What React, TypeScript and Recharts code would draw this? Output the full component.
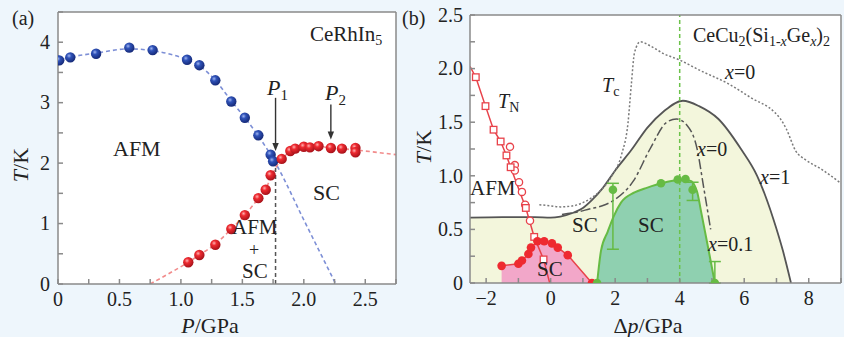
import React from 'react';
import {
  ComposedChart, Line, Area, Scatter, XAxis, YAxis, ReferenceLine, CartesianGrid, ErrorBar,
} from 'recharts';

const SERIF = "'Liberation Serif', 'Times New Roman', serif";
const INK = '#222';
const FRAME = '#8a8a8a';
const BG = '#eef6fc';
const GREEN = '#66bb44';

// ---- panel (a): CeRhIn5 ----
const afmP = [0.01, 0.1, 0.31, 0.58, 0.77, 1.05, 1.15, 1.28, 1.41, 1.52, 1.63, 1.73, 1.75];
const afmT = [3.7, 3.75, 3.81, 3.91, 3.87, 3.71, 3.62, 3.37, 3.02, 2.75, 2.46, 2.14, 2.03];
const afmLineP = [0, 0.1, 0.31, 0.58, 0.77, 1.05, 1.15, 1.28, 1.41, 1.52, 1.63, 1.77, 2.0, 2.26];
const afmLineT = [3.69, 3.75, 3.82, 3.89, 3.86, 3.71, 3.61, 3.37, 3.03, 2.75, 2.45, 2.0, 1.06, 0];
const scP = [1.06, 1.15, 1.28, 1.41, 1.52, 1.63, 1.69, 1.73, 1.82, 1.89, 1.93, 2.0, 2.05, 2.12, 2.22, 2.31, 2.42, 2.42];
const scT = [0.36, 0.48, 0.65, 0.91, 1.14, 1.42, 1.56, 1.8, 2.07, 2.2, 2.24, 2.27, 2.26, 2.28, 2.25, 2.24, 2.25, 2.18];
const scLineP = [0.75, 0.9, 1.06, 1.15, 1.28, 1.41, 1.52, 1.63, 1.7, 1.77, 1.82, 1.9, 2.0, 2.12, 2.3, 2.45, 2.75];
const scLineT = [0, 0.17, 0.36, 0.48, 0.66, 0.91, 1.14, 1.42, 1.62, 1.92, 2.07, 2.19, 2.26, 2.27, 2.24, 2.21, 2.14];
const p1 = 1.77;
const p1Top = 2.0;
const arrowP = [1.77, 2.22];
const arrowFrom = [3.08, 2.97];
const arrowTo = [2.2, 2.39];
const aXTicks = [0, 0.25, 0.5, 0.75, 1, 1.25, 1.5, 1.75, 2, 2.25, 2.5, 2.75];
const aYTicks = [0, 0.5, 1, 1.5, 2, 2.5, 3, 3.5, 4, 4.5];

// ---- panel (b): CeCu2(Si1-xGex)2 ----
const x1P = [-2.5, -1.5, -0.5, 0, 0.3, 0.7, 1.0, 1.3, 1.6, 2.0, 2.5, 3.0, 3.5, 4.1, 4.6, 5.2, 5.9, 6.4, 6.9, 7.2, 7.45];
const x1T = [0.61, 0.615, 0.615, 0.61, 0.62, 0.655, 0.7, 0.78, 0.88, 1.05, 1.24, 1.45, 1.6, 1.7, 1.65, 1.53, 1.25, 1.0, 0.6, 0.3, 0];
const x0P = [0.35, 0.8, 1.2, 1.6, 2.0, 2.56, 3.08, 3.6, 3.9, 4.23, 4.54, 4.75, 4.96];
const x0T = [0.64, 0.66, 0.69, 0.72, 0.78, 0.95, 1.25, 1.5, 1.53, 1.47, 1.25, 0.88, 0.5];
const tcP = [-0.35, 0, 0.3, 0.7, 1.0, 1.5, 1.9, 2.2, 2.4, 2.5, 2.6, 2.78, 3.1, 3.5, 4.0, 4.65, 5.5, 6.2, 6.95, 7.1, 7.3, 7.6, 7.9, 8.4, 9.0];
const tcT = [0.73, 0.72, 0.71, 0.72, 0.75, 0.85, 1.0, 1.2, 1.5, 1.85, 2.15, 2.25, 2.21, 2.14, 2.08, 1.98, 1.86, 1.73, 1.59, 1.54, 1.44, 1.23, 1.15, 1.06, 0.93];
const tnLineP = [-2.5, -2.32, -2.02, -1.77, -1.55, -1.37, -1.24, -0.77, -0.51, -0.22, -0.03];
const tnLineT = [2.02, 1.92, 1.65, 1.43, 1.32, 1.19, 1.08, 0.7, 0.43, 0.22, 0];
const tnSqP = [-2.32, -2.02, -1.77, -1.55, -1.37, -1.24, -0.77, -0.51, -0.22];
const tnSqT = [1.92, 1.65, 1.43, 1.32, 1.19, 1.08, 0.7, 0.43, 0.22];
const tnCiP = [-1.26, -1.11, -1.11, -0.98, -0.89, -0.79, -0.64];
const tnCiT = [1.27, 1.1, 1.05, 0.94, 0.85, 0.73, 0.58];
const redScP = [-1.52, -1.0, -0.89, -0.69, -0.61, -0.41, -0.2, 0.04, 0.22, 0.53, 1.28];
const redScT = [0.16, 0.18, 0.21, 0.27, 0.33, 0.39, 0.39, 0.37, 0.33, 0.26, 0];
const gLineP = [1.44, 1.56, 1.77, 1.95, 2.18, 2.6, 3.0, 3.43, 4.05, 4.32, 4.53, 4.68, 4.9, 5.09];
const gLineT = [0, 0.3, 0.48, 0.62, 0.75, 0.845, 0.89, 0.93, 0.96, 0.955, 0.86, 0.64, 0.3, 0];
const gP = [1.44, 3.42, 3.94, 4.18];
const gT = [0, 0.93, 0.965, 0.97];
const gErrP = [1.93, 4.4, 5.09];
const gErrT = [0.87, 0.87, 0];
const gErrLow = [0.555, 0.1, 0];
const gErrHigh = [0.06, 0.07, 0.2];
const optimum = 4;
const bXTicks = [-2, -1, 0, 1, 2, 3, 4, 5, 6, 7, 8, 9];
const bYTicks = [0, 0.25, 0.5, 0.75, 1, 1.25, 1.5, 1.75, 2, 2.25, 2.5];

const pts = (xs: number[], ys: number[]) => xs.map((x, i) => ({ x, y: ys[i] }));

const half = (v: number) => Math.abs(v * 2 - Math.round(v * 2)) < 1e-6;
const fmtA = (v: number) => (half(v) ? (v === 0 ? '0' : v.toFixed(1)) : '');
const fmtAY = (v: number) => (Number.isInteger(v) ? String(v) : '');
const fmtB = (v: number) => (v % 2 === 0 ? String(v).replace('-', '\u2212') : '');
const fmtBY = (v: number) => (half(v) ? (v === 0 ? '0' : v.toFixed(1)) : '');

// serif tick labels drawn by hand so the font sticks
const xTick = (fmt: (v: number) => string) => (p: any) => (
  <text x={p.x} y={p.y} dy="0.72em" textAnchor="middle" fill={INK} fontSize={20} style={{ fontFamily: SERIF }}>
    {fmt(p.payload.value)}
  </text>
);
const yTick = (fmt: (v: number) => string) => (p: any) => (
  <text x={p.x} y={p.y} dy="0.34em" textAnchor="end" fill={INK} fontSize={20} style={{ fontFamily: SERIF }}>
    {fmt(p.payload.value)}
  </text>
);
const frame = { stroke: FRAME, strokeWidth: 1.5 };

const ball = (grad: string, r: number) => (p: any) => (
  <circle cx={p.cx} cy={p.cy} r={r} fill={`url(#${grad})`} />
);
const dot = (fill: string, r: number) => (p: any) => <circle cx={p.cx} cy={p.cy} r={r} fill={fill} />;
const ring = (p: any) => <circle cx={p.cx} cy={p.cy} r={3.6} fill="#fff" stroke="#e8424a" strokeWidth={1.3} />;
const square = (p: any) => (
  <rect x={p.cx - 3.3} y={p.cy - 3.3} width={6.6} height={6.6} fill="#fff" stroke="#e8424a" strokeWidth={1.3} />
);

const Arrow = (p: any) => {
  const { x1, y1, x2, y2 } = p;
  return (
    <g>
      <line x1={x1} y1={y1} x2={x2} y2={y2 - 6} stroke="#333" strokeWidth={1.4} />
      <polygon points={`${x2},${y2} ${x2 - 3.2},${y2 - 8} ${x2 + 3.2},${y2 - 8}`} fill="#333" />
    </g>
  );
};

function PanelA() {
  return (
    <ComposedChart width={420} height={337} margin={{ top: 11, right: 23, left: 0, bottom: 23 }}>
      <CartesianGrid fill="#fff" stroke="none" horizontal={false} vertical={false} />
      <XAxis dataKey="x" type="number" domain={[0, 2.75]} ticks={aXTicks} interval={0} allowDataOverflow
        tick={xTick(fmtA)} tickSize={-5} tickMargin={13} height={30}
        axisLine={frame} tickLine={frame} />
      <XAxis xAxisId="top" orientation="top" dataKey="x" type="number" domain={[0, 2.75]} ticks={aXTicks}
        interval={0} allowDataOverflow tick={false} tickSize={-5} height={1} axisLine={frame} tickLine={frame} />
      <YAxis type="number" domain={[0, 4.5]} ticks={aYTicks} interval={0} allowDataOverflow
        tick={yTick(fmtAY)} tickSize={-5} tickMargin={13} width={58}
        axisLine={frame} tickLine={frame} />
      <YAxis yAxisId="right" orientation="right" type="number" domain={[0, 4.5]} ticks={aYTicks} interval={0}
        allowDataOverflow tick={false} tickSize={-5} width={1} axisLine={frame} tickLine={frame} />
      <Line data={pts(afmLineP, afmLineT)} dataKey="y" type="monotone" stroke="#7d8fd6" strokeWidth={1.6}
        strokeDasharray="4 3" dot={false} isAnimationActive={false} />
      <Line data={pts(scLineP, scLineT)} dataKey="y" type="monotone" stroke="#f28b8b" strokeWidth={1.6}
        strokeDasharray="4 3" dot={false} isAnimationActive={false} />
      <ReferenceLine segment={[{ x: p1, y: 0 }, { x: p1, y: p1Top }]} stroke="#555" strokeWidth={1.5}
        strokeDasharray="4 3" />
      {arrowP.map((p, i) => (
        <ReferenceLine key={i} segment={[{ x: p, y: arrowFrom[i] }, { x: p, y: arrowTo[i] }]} shape={Arrow} />
      ))}
      <Scatter data={pts(afmP, afmT)} dataKey="y" shape={ball('blueBall', 5.2)} isAnimationActive={false} />
      <Scatter data={pts(scP, scT)} dataKey="y" shape={ball('redBall', 5.2)} isAnimationActive={false} />
    </ComposedChart>
  );
}

function PanelB() {
  const errPts = gErrP.map((x, i) => ({ x, y: gErrT[i], err: [gErrLow[i], gErrHigh[i]] }));
  return (
    <ComposedChart width={424} height={337} margin={{ top: 14, right: 2, left: 0, bottom: 24 }}>
      <CartesianGrid fill="#fff" stroke="none" horizontal={false} vertical={false} />
      <XAxis dataKey="x" type="number" domain={[-2.5, 9]} ticks={bXTicks} interval={0} allowDataOverflow
        tick={xTick(fmtB)} tickSize={-5} tickMargin={13} height={30}
        axisLine={frame} tickLine={frame} />
      <XAxis xAxisId="top" orientation="top" dataKey="x" type="number" domain={[-2.5, 9]} ticks={bXTicks}
        interval={0} allowDataOverflow tick={false} tickSize={-5} height={1} axisLine={frame} tickLine={frame} />
      <YAxis type="number" domain={[0, 2.5]} ticks={bYTicks} interval={0} allowDataOverflow
        tick={yTick(fmtBY)} tickSize={-5} tickMargin={12} width={50}
        axisLine={frame} tickLine={frame} />
      <YAxis yAxisId="right" orientation="right" type="number" domain={[0, 2.5]} ticks={bYTicks} interval={0}
        allowDataOverflow tick={false} tickSize={-5} width={1} axisLine={frame} tickLine={frame} />
      <Area data={pts(x1P, x1T)} dataKey="y" type="monotone" fill="#f3f6dc" fillOpacity={1} stroke="#555"
        strokeWidth={1.8} isAnimationActive={false} />
      <Area data={pts(redScP, redScT)} dataKey="y" type="linear" fill="#f2a7c9" fillOpacity={1} stroke="#e8424a"
        strokeWidth={1.5} isAnimationActive={false} />
      <Area data={pts(gLineP, gLineT)} dataKey="y" type="monotone" fill="#8fd0b0" fillOpacity={1} stroke={GREEN}
        strokeWidth={2} isAnimationActive={false} />
      <Line data={pts(tcP, tcT)} dataKey="y" type="monotone" stroke="#7a7a7a" strokeWidth={1.5}
        strokeDasharray="2 2" dot={false} isAnimationActive={false} />
      <Line data={pts(x0P, x0T)} dataKey="y" type="monotone" stroke="#555" strokeWidth={1.5}
        strokeDasharray="10 3 3 3" dot={false} isAnimationActive={false} />
      <ReferenceLine x={optimum} stroke="#6cc24a" strokeWidth={1.5} strokeDasharray="4 3" />
      <Line data={pts(tnLineP, tnLineT)} dataKey="y" type="linear" stroke="#e8424a" strokeWidth={1.5}
        dot={false} isAnimationActive={false} />
      <Scatter data={pts(tnCiP, tnCiT)} dataKey="y" shape={ring} isAnimationActive={false} />
      <Scatter data={pts(tnSqP, tnSqT)} dataKey="y" shape={square} isAnimationActive={false} />
      <Scatter data={pts(redScP, redScT)} dataKey="y" shape={dot('#ee2a30', 4.3)} isAnimationActive={false} />
      <Scatter data={errPts} dataKey="y" shape={dot(GREEN, 4.3)} isAnimationActive={false}>
        <ErrorBar dataKey="err" direction="y" width={6} stroke={GREEN} strokeWidth={1.5} />
      </Scatter>
      <Scatter data={pts(gP, gT)} dataKey="y" shape={dot(GREEN, 4.3)} isAnimationActive={false} />
    </ComposedChart>
  );
}

function Labels() {
  const it = { fontStyle: 'italic' as const };
  return (
    <svg width={844} height={337} style={{ position: 'absolute', left: 0, top: 0, pointerEvents: 'none', fontFamily: SERIF }}>
      <g fill={INK} style={{ fontFamily: SERIF }} fontSize={20}>
        <text x={12} y={25}>(a)</text>
        <text x={402} y={25}>(b)</text>
        <text x={310} y={41} fontSize={21}>CeRhIn<tspan dy={4} fontSize={14}>5</tspan></text>
        <text x={113} y={156} fontSize={22}>AFM</text>
        <text x={313} y={200} fontSize={22}>SC</text>
        <text x={232} y={234} fontSize={21}>AFM</text>
        <text x={254} y={256} fontSize={18} textAnchor="middle">+</text>
        <text x={242} y={278} fontSize={21}>SC</text>
        <text x={267} y={95} fontSize={22} {...it}>P<tspan dy={5} fontSize={15} fontStyle="normal">1</tspan></text>
        <text x={325} y={100} fontSize={22} {...it}>P<tspan dy={5} fontSize={15} fontStyle="normal">2</tspan></text>
        <text x={28} y={165} fontSize={22} textAnchor="middle" transform="rotate(-90 28 165)">
          <tspan {...it}>T</tspan>/K
        </text>
        <text x={210} y={333} fontSize={22} textAnchor="middle">
          <tspan {...it}>P</tspan>/GPa
        </text>

        <text x={693} y={42} fontSize={20}>
          CeCu<tspan dy={4} fontSize={14}>2</tspan><tspan dy={-4}>(Si</tspan>
          <tspan dy={4} fontSize={14}>1-</tspan><tspan fontSize={14} {...it}>x</tspan>
          <tspan dy={-4}>Ge</tspan><tspan dy={4} fontSize={14} {...it}>x</tspan>
          <tspan dy={-4}>)</tspan><tspan dy={4} fontSize={14}>2</tspan>
        </text>
        <text x={602} y={92} fontSize={20} {...it}>T<tspan dy={4} fontSize={14} fontStyle="normal">c</tspan></text>
        <text x={498} y={108} fontSize={20} {...it}>T<tspan dy={4} fontSize={14} fontStyle="normal">N</tspan></text>
        <text x={725} y={79} fontSize={20}><tspan {...it}>x</tspan>=0</text>
        <text x={697} y={156} fontSize={20}><tspan {...it}>x</tspan>=0</text>
        <text x={760} y={184} fontSize={20}><tspan {...it}>x</tspan>=1</text>
        <text x={708} y={251} fontSize={20}><tspan {...it}>x</tspan>=0.1</text>
        <text x={470} y={195} fontSize={21}>AFM</text>
        <text x={572} y={232} fontSize={21}>SC</text>
        <text x={638} y={232} fontSize={21}>SC</text>
        <text x={537} y={276} fontSize={21}>SC</text>
        <text x={431} y={147} fontSize={22} textAnchor="middle" transform="rotate(-90 431 147)">
          <tspan {...it}>T</tspan>/K
        </text>
        <text x={648} y={333} fontSize={22} textAnchor="middle">
          Δ<tspan {...it}>p</tspan>/GPa
        </text>
      </g>
    </svg>
  );
}

export default function App() {
  return (
    <div style={{ position: 'fixed', left: 0, top: 0, width: 844, height: 337, background: BG, overflow: 'hidden', fontFamily: SERIF }}>
      <svg width={0} height={0} style={{ position: 'absolute' }}>
        <defs>
          <radialGradient id="blueBall" cx="38%" cy="35%" r="65%">
            <stop offset="0%" stopColor="#9fb4f0" />
            <stop offset="35%" stopColor="#2f52b8" />
            <stop offset="100%" stopColor="#162a78" />
          </radialGradient>
          <radialGradient id="redBall" cx="38%" cy="35%" r="65%">
            <stop offset="0%" stopColor="#ffb0b0" />
            <stop offset="35%" stopColor="#ee2a30" />
            <stop offset="100%" stopColor="#a8121a" />
          </radialGradient>
        </defs>
      </svg>
      <div style={{ position: 'absolute', left: 0, top: 0 }}>
        <PanelA />
      </div>
      <div style={{ position: 'absolute', left: 420, top: 0 }}>
        <PanelB />
      </div>
      <Labels />
    </div>
  );
}
